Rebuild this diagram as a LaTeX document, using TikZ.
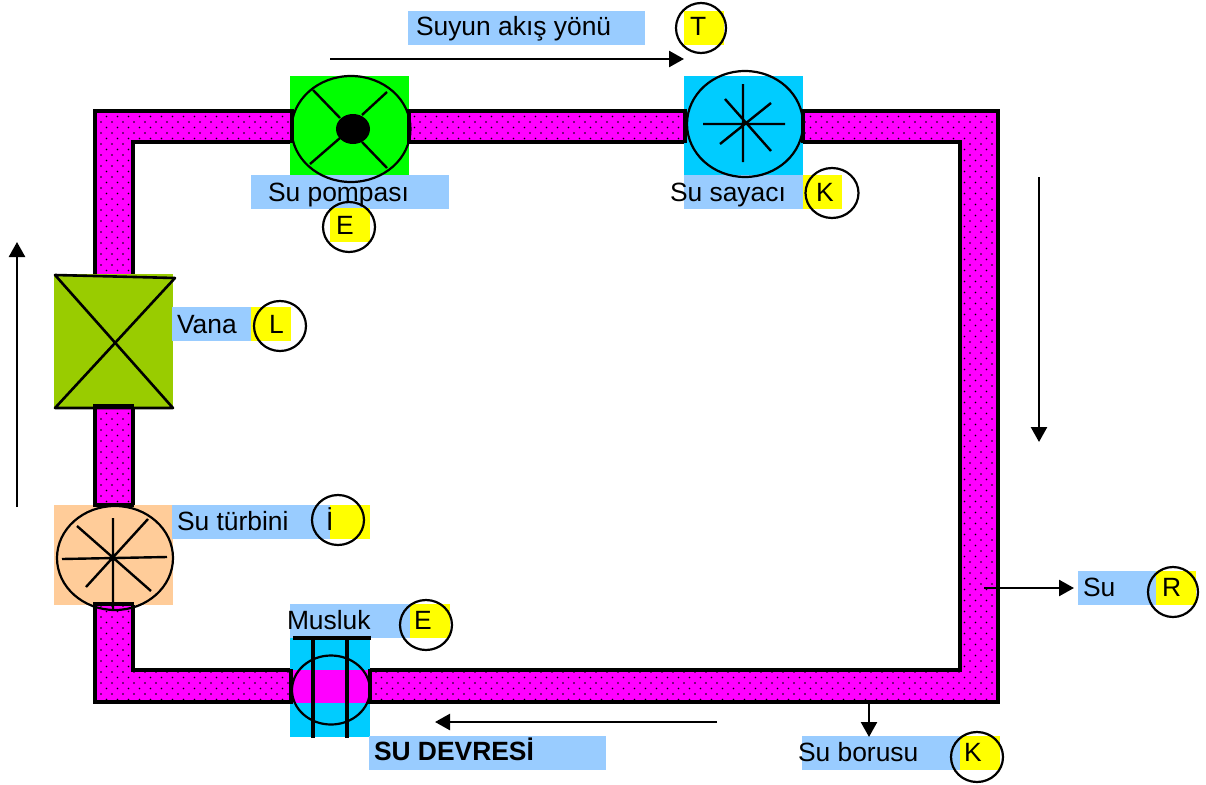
\documentclass[tikz,border=0pt]{standalone}
\usepackage{fontspec}
\setmainfont{Liberation Sans}
\usetikzlibrary{arrows.meta,patterns,shapes.geometric}
\definecolor{pipec}{HTML}{FF00FF}
\definecolor{labc}{HTML}{99CCFF}
\definecolor{markc}{HTML}{FFFF00}
\definecolor{cyanc}{HTML}{00CCFF}
\definecolor{pumpc}{HTML}{00FF00}
\definecolor{valvec}{HTML}{99CC00}
\definecolor{peachc}{HTML}{FFCC99}
\pgfdeclarepatternformonly{pipedots}{\pgfqpoint{-1pt}{-1pt}}{\pgfqpoint{11pt}{11pt}}{\pgfqpoint{11pt}{11pt}}{
  \pgfpathcircle{\pgfqpoint{2pt}{2pt}}{0.8pt}
  \pgfpathcircle{\pgfqpoint{7.5pt}{7.5pt}}{0.8pt}
  \pgfusepath{fill}}
\tikzset{
  area/.style={anchor=north west,inner sep=0pt,outer sep=0pt,minimum width=#1,draw=none},
  tall/.style={minimum height=34pt},
  lab/.style={area=#1,tall,fill=labc},
  markbox/.style={area=#1,tall,fill=markc},
  txt/.style={anchor=base west,inner sep=0pt,outer sep=0pt,font=\fontsize{26.4}{30}\selectfont},
  ring/.style={draw=black,line width=2.2pt,shape=ellipse,inner sep=0pt,outer sep=0pt,minimum width=#1},
  flow/.style={line width=2.5pt,-{Triangle[length=15pt,width=16pt]}},
  spoke/.style={line width=2.4pt},
  pipeedge/.style={line width=3.2pt}
}
\begin{document}
\begin{tikzpicture}[x=1pt,y=-1pt]
\useasboundingbox (0,0) rectangle (1206,784);
% pipe
\path[fill=pipec,even odd rule] (95,111) rectangle (998,702) (132,142) rectangle (960,670);
\path[pattern=pipedots,pattern color=black,even odd rule] (95,111) rectangle (998,702) (132,142) rectangle (960,670);
\draw[pipeedge] (95,111) rectangle (998,702);
\draw[pipeedge] (133,142) rectangle (960,670);
% component backgrounds
\node[area=119pt,minimum height=99pt,fill=pumpc] (pumpbg) at (290,76) {};
\node[area=119pt,minimum height=99pt,fill=cyanc] (meterbg) at (684,76) {};
\node[area=119pt,minimum height=134pt,fill=valvec] (valvebg) at (54,274) {};
\node[area=119pt,minimum height=100pt,fill=peachc] (turbbg) at (54,505) {};
\node[area=80pt,minimum height=99pt,fill=cyanc] (tapbg) at (290,638) {};
\node[area=78pt,minimum height=33pt,fill=pipec] (tapband) at (292,670) {};
% label backgrounds
\node[lab=237pt] (flowlab) at (408,11) {};
\node[markbox=40pt] (tmark) at (684,11) {};
\node[lab=198pt] (pumplab) at (251,175) {};
\node[markbox=40pt] (emark) at (330,208) {};
\node[lab=119pt] (meterlab) at (684,175) {};
\node[markbox=39pt] (kmark) at (803,175) {};
\node[lab=79pt] (valvelab) at (172,307) {};
\node[markbox=40pt] (lmark) at (251,307) {};
\node[lab=158pt] (turblab) at (172,505) {};
\node[markbox=40pt] (imark) at (330,505) {};
\node[lab=120pt] (taplab) at (290,604) {};
\node[markbox=40pt] (e2mark) at (410,604) {};
\node[lab=237pt] (titlelab) at (369,736) {};
\node[lab=158pt] (boruslab) at (802,736) {};
\node[markbox=40pt] (k2mark) at (960,736) {};
\node[lab=78pt] (sulab) at (1078,571) {};
\node[markbox=40pt] (rmark) at (1156,571) {};
% pipe ends at components
\draw[pipeedge] (292,109) -- (292,143) (409,109) -- (409,143);
\draw[pipeedge] (685,109) -- (685,143) (803,109) -- (803,143);
\draw[pipeedge] (93,406) -- (134,406) (93,505) -- (134,505) (93,604) -- (134,604);
\draw[pipeedge] (291,669) -- (291,704) (370,669) -- (370,704);
% pump
\node[ring=119pt,minimum height=106pt] (pump) at (351,129) {};
\node[shape=ellipse,fill=black,inner sep=0pt,minimum width=34pt,minimum height=30pt] (hub) at (353,129) {};
\draw[spoke] (313,90) -- (340,118) (387,92) -- (362,115) (310,164) -- (340,138) (387,168) -- (362,142);
% meter
\node[ring=116pt,minimum height=106pt] (meter) at (745,124) {};
\draw[spoke] (743,84) -- (743,162) (703,124) -- (785,124) (725,99) -- (771,151) (771,103) -- (720,144);
% valve
\draw[line width=2.6pt,line join=round] (55,275) -- (175,278) -- (55,408) -- (173,408) -- cycle;
% turbine
\node[ring=116pt,minimum height=104pt] (turb) at (115,558) {};
\draw[spoke] (113,518) -- (113,610) (62,559) -- (167,557) (77,526) -- (151,591) (86,587) -- (148,519);
% tap
\draw[pipeedge] (293,638) -- (371,638);
\draw[pipeedge] (313,638) -- (313,738) (347,638) -- (347,738);
\node[ring=78pt,minimum height=69pt] (tap) at (331,690) {};
% circles
\node[ring=50pt,minimum height=50pt] (tc) at (701,28) {};
\node[ring=52pt,minimum height=50pt] (ec) at (349,227) {};
\node[ring=53pt,minimum height=50pt] (kc) at (832,193) {};
\node[ring=52pt,minimum height=50pt] (lc) at (280,326) {};
\node[ring=52pt,minimum height=50pt] (ic) at (338,520) {};
\node[ring=52pt,minimum height=50pt] (e2c) at (426,625) {};
\node[ring=52pt,minimum height=50pt] (k2c) at (977,757) {};
\node[ring=50pt,minimum height=50pt] (rc) at (1173,592) {};
% texts
\node[txt] (t1) at (416,36) {Suyun akış yönü};
\node[txt] (t2) at (690,36) {T};
\node[txt] (t3) at (268,201) {Su pompası};
\node[txt] (t4) at (336,234) {E};
\node[txt] (t5) at (670,201) {Su sayacı};
\node[txt] (t6) at (816,201) {K};
\node[txt] (t7) at (177,333) {Vana};
\node[txt] (t8) at (269,333) {L};
\node[txt] (t9) at (177,530) {Su türbini};
\node[txt] (t10) at (326,530) {İ};
\node[txt] (t11) at (287,629) {Musluk};
\node[txt] (t12) at (414,629) {E};
\node[txt,font=\fontsize{26.4}{30}\selectfont\bfseries] (t13) at (374,760) {SU DEVRESİ};
\node[txt] (t14) at (798,761) {Su borusu};
\node[txt] (t15) at (964,761) {K};
\node[txt] (t16) at (1083,596) {Su};
\node[txt] (t17) at (1162,596) {R};
% arrows
\coordinate (a1s) at (330,59); \coordinate (a1e) at (684,59);
\coordinate (a2s) at (1039,177); \coordinate (a2e) at (1039,442);
\coordinate (a3s) at (717,722); \coordinate (a3e) at (435,722);
\coordinate (a4s) at (17,507); \coordinate (a4e) at (17,242);
\coordinate (a5s) at (984,588); \coordinate (a5e) at (1074,588);
\coordinate (a6s) at (869,704); \coordinate (a6e) at (869,737);
\draw[flow] (a1s) -- (a1e);
\draw[flow] (a2s) -- (a2e);
\draw[flow] (a3s) -- (a3e);
\draw[flow] (a4s) -- (a4e);
\draw[flow] (a5s) -- (a5e);
\draw[flow] (a6s) -- (a6e);
\end{tikzpicture}
\end{document}
